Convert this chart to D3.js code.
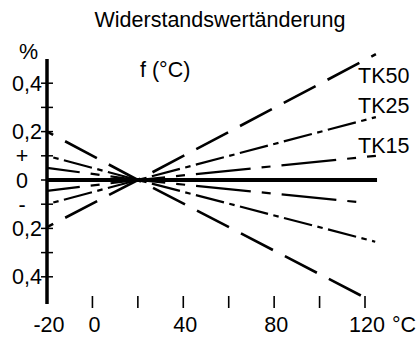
<!DOCTYPE html>
<html>
<head>
<meta charset="utf-8">
<script src="https://cdn.jsdelivr.net/npm/d3@7/dist/d3.min.js"></script>
<style>
  html, body { margin: 0; padding: 0; background: #fff; }
  svg { display: block; }
  text { font-family: "Liberation Sans", Arial, sans-serif; fill: #000; }
</style>
</head>
<body>
<svg id="chart" width="416" height="340"></svg>
<script>
// ---- data ----
const title = "Widerstandswertänderung";
const axisUnitY = "%";
const axisNoteX = "f (°C)";
const axisUnitX = "°C";

const xTicks = [0, 20, 40, 60, 80, 100, 120];
const xLabelValues = [-20, 0, 40, 80, 120];
const xLabels = ["-20", "0", "40", "80", "120"];

const yTicks = [0.4, 0.3, 0.2, 0.1, 0, -0.1, -0.2, -0.3, -0.4];
const yLabelValues = [0.4, 0.2, 0.1, 0, -0.1, -0.2, -0.4];
const yLabels = ["0,4", "0,2", "+", "0", "-", "0,2", "0,4"];

const seriesNames = ["TK50", "TK25", "TK15"];
// each branch: temperature points and % change
const tk50UpperT = [-20, 20, 124.8], tk50UpperV = [0.2, 0, 0.52];
const tk50LowerT = [-20, 20, 118.7], tk50LowerV = [-0.195, 0, -0.48];
const tk25UpperT = [-20, 20, 124.8], tk25UpperV = [0.1, 0, 0.26];
const tk25LowerT = [-20, 20, 124.5], tk25LowerV = [-0.1, 0, -0.255];
const tk15UpperT = [-20, 20, 124.8], tk15UpperV = [0.05, 0, 0.1];
const tk15LowerT = [-20, 20, 118.7], tk15LowerV = [-0.045, 0, -0.093];
const zeroLineT = [-20, 125.3], zeroLineV = [0, 0];

// ---- layout ----
const svg = d3.select("#chart");
const x = d3.scaleLinear().domain([-20, 120]).range([47, 365]);
const y = d3.scaleLinear().domain([-0.5, 0.5]).range([301, 59]);
const FS = 21.5;

const zip = (t, v) => t.map((d, i) => [d, v[i]]);
const line = d3.line().x(d => x(d[0])).y(d => y(d[1]));

const styles = {
  TK50: { width: 2.6, dash: "36 13.5", offset: 29 },
  TK25: { width: 2.2, dash: "29 5.5 5.5 5.5", offset: 28 },
  TK15: { width: 2.2, dash: "55 11 9 11", offset: 22 }
};
const branches = [
  ["TK50", tk50UpperT, tk50UpperV], ["TK50", tk50LowerT, tk50LowerV],
  ["TK25", tk25UpperT, tk25UpperV], ["TK25", tk25LowerT, tk25LowerV],
  ["TK15", tk15UpperT, tk15UpperV], ["TK15", tk15LowerT, tk15LowerV]
];

// title
svg.append("text").attr("x", 220).attr("y", 27).attr("text-anchor", "middle")
  .style("font-size", FS + "px").text(title);

// series branches
branches.forEach(([name, t, v]) => {
  const s = styles[name];
  svg.append("path").datum(zip(t, v)).attr("d", line)
    .attr("fill", "none").attr("stroke", "#000")
    .attr("stroke-width", s.width)
    .attr("stroke-dasharray", s.dash)
    .attr("stroke-dashoffset", s.offset);
});

// zero line (thick)
svg.append("path").datum(zip(zeroLineT, zeroLineV)).attr("d", line)
  .attr("fill", "none").attr("stroke", "#000").attr("stroke-width", 4);

// y axis
svg.append("line").attr("x1", x(-20)).attr("x2", x(-20))
  .attr("y1", y(0.5)).attr("y2", y(-0.5) + 3)
  .attr("stroke", "#000").attr("stroke-width", 3.5);
svg.selectAll(".yt").data(yTicks).enter().append("line")
  .attr("x1", x(-20) - 6).attr("x2", x(-20) + 6)
  .attr("y1", d => y(d)).attr("y2", d => y(d))
  .attr("stroke", "#000").attr("stroke-width", 1.5);
svg.selectAll(".yl").data(yLabelValues).enter().append("text")
  .attr("x", (d, i) => yLabels[i].length > 1 ? 42 : 22)
  .attr("y", d => y(d) + 7.5)
  .attr("text-anchor", (d, i) => yLabels[i].length > 1 ? "end" : "middle")
  .style("font-size", FS + "px")
  .text((d, i) => yLabels[i]);
svg.append("text").attr("x", 19).attr("y", 59).style("font-size", FS + "px").text(axisUnitY);

// x ticks
svg.selectAll(".xt").data(xTicks).enter().append("line")
  .attr("x1", d => x(d)).attr("x2", d => x(d))
  .attr("y1", 296).attr("y2", 308)
  .attr("stroke", "#000").attr("stroke-width", 1.6);
svg.selectAll(".xl").data(xLabelValues).enter().append("text")
  .attr("x", d => x(d) + 2).attr("y", 332)
  .attr("text-anchor", "middle")
  .style("font-size", FS + "px")
  .text((d, i) => xLabels[i]);
svg.append("text").attr("x", 392).attr("y", 332).style("font-size", FS + "px").text(axisUnitX);

// note
svg.append("text").attr("x", 140).attr("y", 77).style("font-size", FS + "px").text(axisNoteX);

// series labels
const labelY = { TK50: 83, TK25: 113, TK15: 153 };
seriesNames.forEach(n => {
  svg.append("text").attr("x", 358).attr("y", labelY[n])
    .style("font-size", FS + "px").text(n);
});
</script>
</body>
</html>
